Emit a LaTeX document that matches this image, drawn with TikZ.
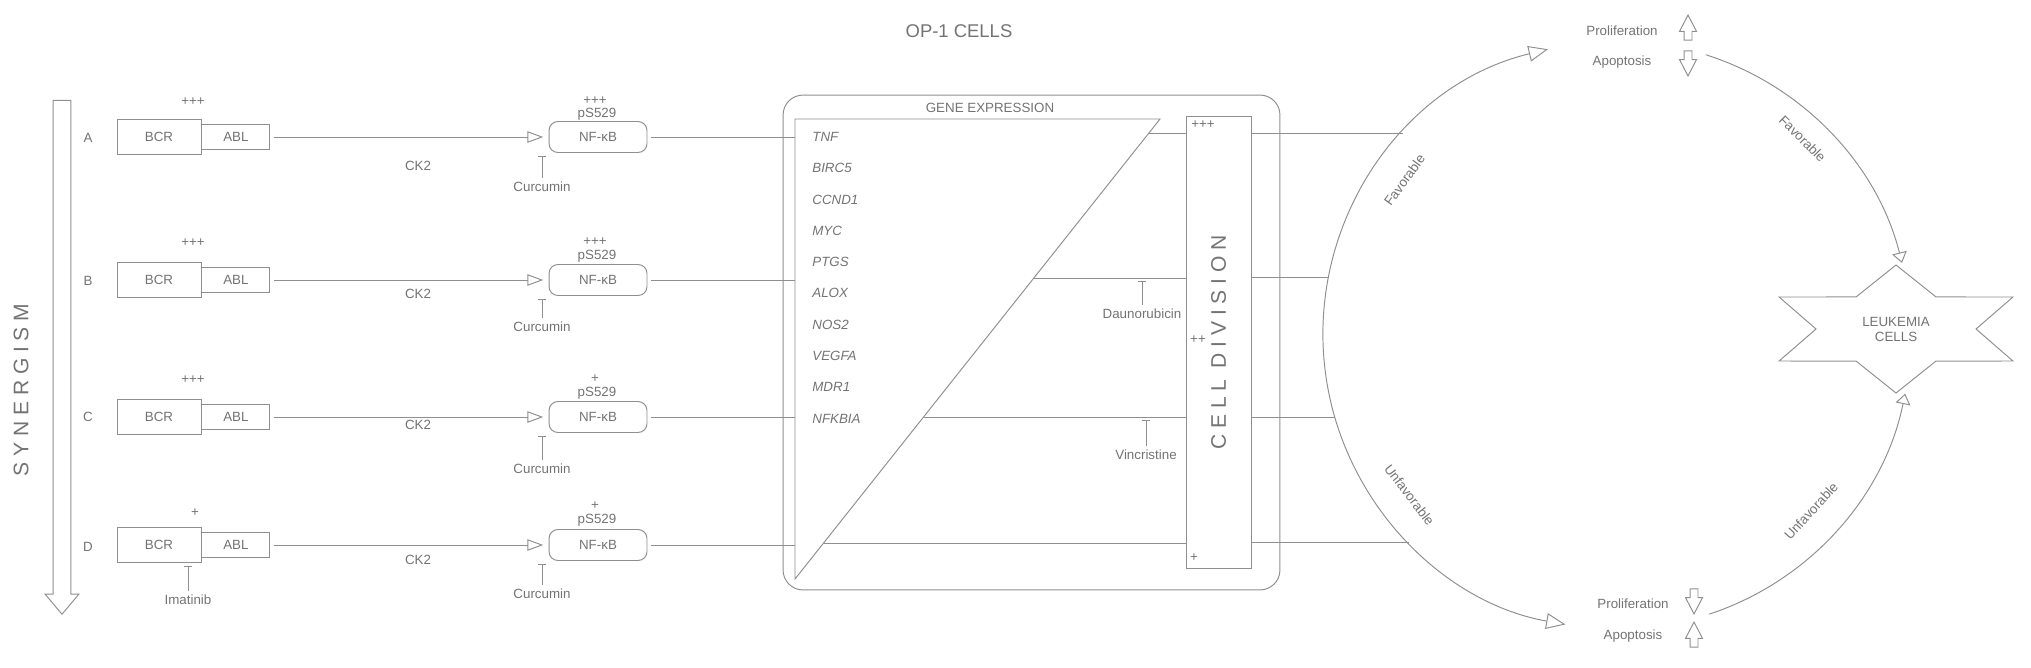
\documentclass[tikz,border=0pt]{standalone}
\usepackage{fontspec}
\usepackage{graphicx}
\usepackage{tikz}
\usetikzlibrary{shapes.arrows, arrows.meta, positioning, calc}

\setmainfont{Liberation Sans}
\newfontfamily\spacedfont[LetterSpace=27]{Liberation Sans}
\newcommand{\lblfont}{\fontsize{7.6}{9}\selectfont}
\definecolor{ink}{gray}{0.45}
\definecolor{wire}{gray}{0.56}

\begin{document}
\begin{tikzpicture}[
    x=0.02cm, y=0.02cm,
    lbl/.style={font=\lblfont, text=ink, inner sep=0pt},
    box/.style={draw=wire, line width=0.55pt, inner sep=0pt, font=\lblfont, text=ink},
    bcr/.style={box, minimum width=1.68cm, minimum height=0.70cm},
    abl/.style={box, minimum width=1.36cm, minimum height=0.50cm},
    nfkb/.style={box, rounded corners=0.18cm, minimum width=1.96cm, minimum height=0.62cm},
    link/.style={draw=wire, line width=0.55pt},
    act/.style={link, -{Triangle[open, length=9pt, width=6.5pt]}, shorten <=2pt, shorten >=3pt},
    inhib/.style={link, -{Bar[width=5pt]}, shorten <=2pt, shorten >=1.5pt},
    tocell/.style={link, -{Triangle[open, length=6pt, width=8.5pt]}},
    cyc/.style={link, {Triangle[open, length=11pt, width=9pt]}-{Triangle[open, length=11pt, width=9pt]}},
    fat/.style={single arrow, draw=wire, line width=0.55pt, inner sep=0.07cm, minimum height=0.5cm, minimum width=0.32cm, single arrow head extend=0.09cm, single arrow tip angle=55, anchor=tip},
    bigword/.style={font=\spacedfont\fontsize{12}{14}\selectfont, text=ink}
]
    \useasboundingbox (0,0) rectangle (2031,-667);

    % Title
    \node[lbl, font=\fontsize{10.5}{12}\selectfont] (title) at (959,-31) {OP-1 CELLS};

    % Synergism arrow
    \node[single arrow, draw=wire, line width=0.55pt, rotate=-90, anchor=tip, inner sep=0.17cm, minimum height=10.28cm, minimum width=0.66cm, single arrow head extend=0.16cm, single arrow tip angle=80] (syn) at (62,-615) {};
    \node[bigword, rotate=90] (synlbl) at (21,-390) {SYNERGISM};

    % Row A
    \node[lbl] (rowA) at (88,-138) {A};
    \node[bcr] (bcrA) at (159,-137) {BCR};
    \node[abl, right=0pt of bcrA] (ablA) {ABL};
    \node[lbl] (plusA) at (193,-102) {+++};
    \node[nfkb] (nfA) at (598,-137) {NF-κB};
    \node[lbl] (psA) at (597,-114) {pS529};
    \node[lbl] (ppA) at (595,-101) {+++};
    \node[lbl] (ckA) at (418,-166) {CK2};
    \node[lbl] (curA) at (542,-187) {Curcumin};
    \draw[act] (ablA) -- (nfA);
    \draw[inhib] (curA) -- (curA |- nfA.south);

    % Row B
    \node[lbl] (rowB) at (88,-281) {B};
    \node[bcr] (bcrB) at (159,-280) {BCR};
    \node[abl, right=0pt of bcrB] (ablB) {ABL};
    \node[lbl] (plusB) at (193,-243) {+++};
    \node[nfkb] (nfB) at (598,-280) {NF-κB};
    \node[lbl] (psB) at (597,-256) {pS529};
    \node[lbl] (ppB) at (595,-242) {+++};
    \node[lbl] (ckB) at (418,-294) {CK2};
    \node[lbl] (curB) at (542,-327) {Curcumin};
    \draw[act] (ablB) -- (nfB);
    \draw[inhib] (curB) -- (curB |- nfB.south);

    % Row C
    \node[lbl] (rowC) at (88,-417) {C};
    \node[bcr] (bcrC) at (159,-417) {BCR};
    \node[abl, right=0pt of bcrC] (ablC) {ABL};
    \node[lbl] (plusC) at (193,-380) {+++};
    \node[nfkb] (nfC) at (598,-417) {NF-κB};
    \node[lbl] (psC) at (597,-393) {pS529};
    \node[lbl] (ppC) at (595,-379) {+};
    \node[lbl] (ckC) at (418,-425) {CK2};
    \node[lbl] (curC) at (542,-469) {Curcumin};
    \draw[act] (ablC) -- (nfC);
    \draw[inhib] (curC) -- (curC |- nfC.south);

    % Row D
    \node[lbl] (rowD) at (88,-547) {D};
    \node[bcr] (bcrD) at (159,-545) {BCR};
    \node[abl, right=0pt of bcrD] (ablD) {ABL};
    \node[lbl] (plusD) at (195,-513) {+};
    \node[nfkb] (nfD) at (598,-545) {NF-κB};
    \node[lbl] (psD) at (597,-520) {pS529};
    \node[lbl] (ppD) at (595,-506) {+};
    \node[lbl] (ckD) at (418,-560) {CK2};
    \node[lbl] (curD) at (542,-594) {Curcumin};
    \node[lbl] (imat) at (188,-600) {Imatinib};
    \draw[act] (ablD) -- (nfD);
    \draw[inhib] (curD) -- (curD |- nfD.south);
    \draw[inhib] (imat) -- (imat |- bcrD.south);

    % Gene expression block
    \node[box, rounded corners=0.4cm, minimum width=9.94cm, minimum height=9.9cm] (genebox) at (1031.5,-342.5) {};
    \node[lbl] (genetitle) at (990,-108) {GENE EXPRESSION};
    \coordinate (tri1) at (795,-119);
    \coordinate (tri2) at (1160,-119);
    \coordinate (tri3) at (795,-579);
    \draw[link] (tri1) -- (tri2) -- (tri3) -- cycle;
    \node[lbl, font=\fontsize{7.6}{17.8}\selectfont\itshape, align=left, anchor=north west] (genes) at (812,-132)
        {TNF\\BIRC5\\CCND1\\MYC\\PTGS\\ALOX\\NOS2\\VEGFA\\MDR1\\NFKBIA};
    \draw[link, shorten <=2pt] (nfA) -- (nfA -| tri1);
    \draw[link, shorten <=2pt] (nfB) -- (nfB -| tri1);
    \draw[link, shorten <=2pt] (nfC) -- (nfC -| tri1);
    \draw[link, shorten <=2pt] (nfD) -- (nfD -| tri1);

    % Cell division
    \node[box, minimum width=1.3cm, minimum height=9.06cm] (celldiv) at (1218.5,-342.5)
        {\rotatebox{90}{\spacedfont\fontsize{12}{14}\selectfont CELL DIVISION}};
    \node[lbl] (cdA) at (1203,-125) {+++};
    \node[lbl] (cdB) at (1198,-340) {++};
    \node[lbl] (cdD) at (1194,-558) {+};
    \coordinate (dA) at ($(tri2)!0.0304!(tri3)$);
    \coordinate (dB) at ($(tri2)!0.3457!(tri3)$);
    \coordinate (dC) at ($(tri2)!0.6478!(tri3)$);
    \coordinate (dD) at ($(tri2)!0.9217!(tri3)$);
    \draw[link] (dA) -- (dA -| celldiv.west);
    \draw[link] (dB) -- (dB -| celldiv.west);
    \draw[link] (dC) -- (dC -| celldiv.west);
    \draw[link] (dD) -- (dD -| celldiv.west);
    \node[lbl] (dauno) at (1142,-314) {Daunorubicin};
    \node[lbl] (vinc) at (1146,-455) {Vincristine};
    \draw[inhib] (dauno) -- (dauno |- dB);
    \draw[inhib] (vinc) -- (vinc |- dC);

    % Outcome cycle
    \coordinate (ctr) at (1617,-335);
    \coordinate (cA) at ($(ctr)+(136.6:294)$);
    \coordinate (cB) at ($(ctr)+(168.8:294)$);
    \coordinate (cC) at ($(ctr)+(196.2:294)$);
    \coordinate (cD) at ($(ctr)+(225.0:294)$);
    \draw[link] (celldiv.east |- cA) -- (cA);
    \draw[link] (celldiv.east |- cB) -- (cB);
    \draw[link] (celldiv.east |- cC) -- (cC);
    \draw[link] (celldiv.east |- cD) -- (cD);
    \coordinate (arcTL) at ($(ctr)+(103.6:294)$);
    \coordinate (arcTR) at ($(ctr)+(72.4:294)$);
    \coordinate (arcBR) at ($(ctr)+(-71.7:294)$);
    \draw[cyc] (arcTL) arc[start angle=103.6, end angle=259.9, radius=294];
    \draw[tocell] (arcTR) arc[start angle=72.4, end angle=14.2, radius=294];
    \draw[tocell] (arcBR) arc[start angle=-71.7, end angle=-11.5, radius=294];
    \node[lbl, rotate=53.9] (favL) at ($(ctr)+(143.9:263)$) {Favorable};
    \node[lbl, rotate=-45] (favR) at ($(ctr)+(46.6:270)$) {Favorable};
    \node[lbl, rotate=-52.4] (unfL) at ($(ctr)+(217.6:262)$) {Unfavorable};
    \node[lbl, rotate=47.8] (unfR) at ($(ctr)+(-42.2:262)$) {Unfavorable};

    % Proliferation / apoptosis
    \node[lbl] (proT) at (1622,-31) {Proliferation};
    \node[lbl] (apoT) at (1622,-62) {Apoptosis};
    \node[fat, rotate=90] (upT) at (1688,-14) {};
    \node[fat, rotate=-90] (dnT) at (1688,-77) {};
    \node[lbl] (proB) at (1633,-604) {Proliferation};
    \node[lbl] (apoB) at (1633,-636) {Apoptosis};
    \node[fat, rotate=-90] (dnB) at (1694,-615) {};
    \node[fat, rotate=90] (upB) at (1694,-621) {};

    % Leukemia cells
    \node[lbl, font=\fontsize{7.6}{8.5}\selectfont, align=center] (leuk) at (1896,-329) {LEUKEMIA\\CELLS};
    \draw[link] ($(leuk)+(90:135 and 64)$) -- ($(leuk)+(120:80 and 37)$)
        -- ($(leuk)+(150:135 and 64)$) -- ($(leuk)+(180:80 and 37)$)
        -- ($(leuk)+(210:135 and 64)$) -- ($(leuk)+(240:80 and 37)$)
        -- ($(leuk)+(270:135 and 64)$) -- ($(leuk)+(300:80 and 37)$)
        -- ($(leuk)+(330:135 and 64)$) -- ($(leuk)+(0:80 and 37)$)
        -- ($(leuk)+(30:135 and 64)$) -- ($(leuk)+(60:80 and 37)$) -- cycle;

\end{tikzpicture}
\end{document}
